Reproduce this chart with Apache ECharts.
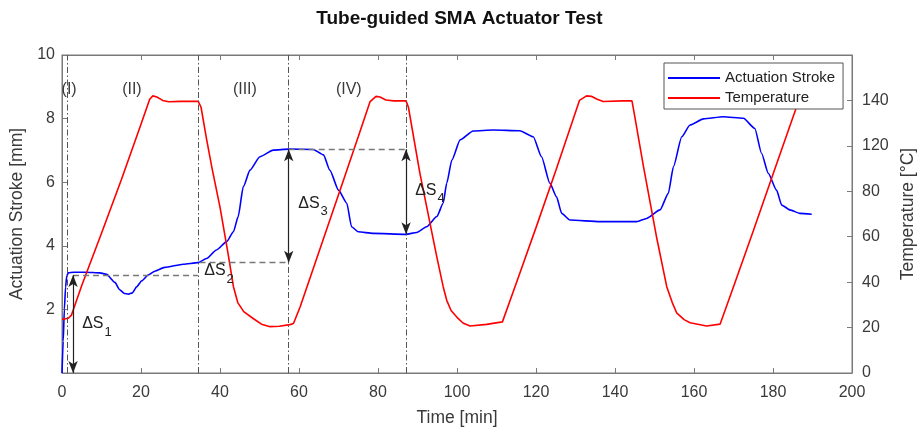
<!DOCTYPE html>
<html>
<head>
<meta charset="utf-8">
<title>Tube-guided SMA Actuator Test</title>
<script src="https://cdn.jsdelivr.net/npm/echarts@6/dist/echarts.min.js"></script>
<style>
html, body { margin: 0; padding: 0; background: #fff; }
#chart { width: 919px; height: 429px; }
</style>
</head>
<body>
<div id="chart"></div>
<script>
// actuation stroke, time [min] / stroke [mm]
const strokeTime = [0, 0.3, 0.6, 0.9, 1.2, 1.6, 3, 6, 9.6, 11.3, 13.4, 14.6, 15.8, 16.8, 17.8, 18.9, 20.2, 21.8,
  23.5, 26, 30.7, 34.4, 36.6, 39.1, 41.7, 43.4, 44.6, 45.9, 47.6, 50.1, 53.5, 57.4, 63.6, 66.2, 67.8, 70,
  72.1, 73.3, 75, 78.8, 87.1, 89.8, 92.3, 94.9, 96.5, 97.4, 98.7, 100.8, 104.1, 109.2, 115.9, 119.3, 121.4, 123.5,
  125.2, 126.5, 128.6, 136.2, 145.5, 148, 151.4, 153.5, 154.8, 156.9, 159, 162.4, 167.4, 172.5, 175.4, 177.1, 178.8, 180.9,
  182.2, 184.3, 186.8, 189.8];
const strokeMm = [0, 1.0, 2.0, 2.7, 3.05, 3.15, 3.17, 3.17, 3.15, 3.1, 2.85, 2.62, 2.5, 2.48, 2.52, 2.71, 2.9, 3.08,
  3.2, 3.32, 3.42, 3.47, 3.6, 3.87, 4.13, 4.44, 4.92, 5.86, 6.38, 6.8, 7.01, 7.04, 7.03, 6.86, 6.38, 5.75,
  5.34, 4.6, 4.44, 4.39, 4.36, 4.42, 4.6, 4.92, 5.34, 5.97, 6.7, 7.33, 7.61, 7.64, 7.62, 7.43, 6.8, 5.97,
  5.54, 5.02, 4.81, 4.76, 4.76, 4.86, 5.13, 5.65, 6.49, 7.43, 7.8, 7.99, 8.06, 8.01, 7.69, 6.91, 6.28, 5.75,
  5.28, 5.13, 5.02, 4.99];

// temperature, in units of the right axis grid (20 per tick)
const tempTime = [0, 1.6, 2.4, 5, 10, 15, 20, 22.2, 23, 24, 25.5, 27, 30, 34.5, 35.2, 36.6, 38, 40,
  42, 43.4, 44.5, 46, 48.4, 50.5, 52.7, 55, 57.7, 58.6, 60.3, 65, 70, 75, 78, 79.5, 80.5, 82,
  84, 87.1, 87.7, 90.6, 94.9, 96.5, 97.4, 98.5, 100, 101.5, 103.3, 107.5, 111.5, 115, 120, 125, 131, 132.8,
  134, 135.5, 137, 142, 144.3, 145, 147.2, 150.5, 153.1, 154.5, 155.6, 157.5, 159, 163.2, 166.6, 170, 175, 180,
  186, 189];
const tempVal = [23.6, 24.1, 25.5, 38.5, 61.5, 85, 109.5, 120.5, 122, 121.5, 120, 119.4, 119.6, 119.6, 117, 103, 90, 73,
  53, 38, 31, 27, 24, 21.5, 20.4, 20.6, 21.3, 21.8, 29.2, 53, 78.5, 104, 119.5, 121.8, 121.5, 120.2,
  119.8, 119.8, 117, 88, 51, 38, 32, 27.5, 24.5, 22, 20.7, 21.4, 22.5, 39.5, 64, 89, 120, 122,
  121.8, 120.5, 119.5, 119.8, 119.8, 113, 91, 60, 38, 31, 26.5, 23.5, 22.1, 20.7, 21.5, 38, 62.5, 87.5,
  117.3, 132];

// right axis labels as printed on the figure
const tempTicks = ['0', '20', '40', '60', '80', '120', '140', ''];

// phase markers
const phaseTimes = [1.4, 34.4, 57.4, 87.1];
const phaseNames = ['(I)', '(II)', '(III)', '(IV)'];
const phaseLabelTimes = [1.8, 17.7, 46.3, 72.6];
const phaseLabelY = 8.9;

// dashed reference levels: [from, to, stroke]
const levelLines = [[2.8, 34.4, 3.08], [34.8, 57.4, 3.47], [57.4, 87.1, 7.04]];
// double arrows: [time, top, bottom]
const deltaArrows = [[2.8, 3.08, 0], [57.4, 7.04, 3.47], [87.1, 7.04, 4.36]];
// delta labels: [index, time, stroke]
const deltaLabels = [['1', 5.1, 1.51], ['2', 36.0, 3.18], ['3', 59.8, 5.31], ['4', 89.4, 5.72]];

const FONT = "'Liberation Sans', Arial, Helvetica, sans-serif";
const AXIS_COLOR = '#7a7a7a';
const LABEL_COLOR = '#3a3a3a';

function zip(xs, ys) {
  return xs.map((x, i) => [x, ys[i]]);
}

let myChart = echarts.init(document.getElementById('chart'));

let markLines = [];
phaseTimes.forEach(t => {
  markLines.push({ xAxis: t, lineStyle: { type: [6, 2.5, 1.5, 2.5], color: '#555', width: 1 } });
});
levelLines.forEach(l => {
  let ls = { type: [6, 4], color: '#777', width: 1.3 };
  markLines.push([{ coord: [l[0], l[2]], lineStyle: ls }, { coord: [l[1], l[2]], lineStyle: ls }]);
});
deltaArrows.forEach(a => {
  let ls = { type: 'solid', color: '#222', width: 1.2 };
  markLines.push([
    { coord: [a[0], a[1]], symbol: 'arrow', symbolSize: [7, 12], lineStyle: ls },
    { coord: [a[0], a[2]], symbol: 'arrow', symbolSize: [7, 12], lineStyle: ls }
  ]);
});

let markPoints = [];
phaseNames.forEach((n, i) => {
  markPoints.push({
    name: n, coord: [phaseLabelTimes[i], phaseLabelY],
    label: { show: true, position: 'inside', formatter: n, fontSize: 16, color: LABEL_COLOR, fontFamily: FONT }
  });
});
deltaLabels.forEach(d => {
  markPoints.push({
    name: 'dS' + d[0], coord: [d[1], d[2]],
    label: {
      show: true, position: 'right', distance: 0,
      formatter: '{m|ΔS}{s|' + d[0] + '}',
      rich: {
        m: { fontSize: 16, lineHeight: 18, verticalAlign: 'top', color: '#222', fontFamily: FONT },
        s: { fontSize: 13, lineHeight: 14, verticalAlign: 'top', padding: [10, 0, 0, 1], color: '#222', fontFamily: FONT }
      }
    }
  });
});

const tickStyle = { show: true, inside: true, length: 5, lineStyle: { color: AXIS_COLOR } };

myChart.setOption({
  animation: false,
  backgroundColor: '#fff',
  textStyle: { fontFamily: FONT },
  title: {
    text: 'Tube-guided SMA Actuator Test',
    left: 'center',
    top: 4,
    textStyle: { fontSize: 19, fontWeight: 'bold', color: '#111', fontFamily: FONT }
  },
  legend: {
    data: ['Actuation Stroke', 'Temperature'],
    orient: 'vertical',
    left: 664,
    top: 63,
    padding: [7, 8, 3, 4],
    icon: 'rect',
    itemWidth: 52,
    itemHeight: 2,
    itemGap: 4,
    backgroundColor: '#fff',
    borderColor: '#555',
    borderWidth: 1,
    borderRadius: 0,
    textStyle: { fontSize: 15, color: '#222', lineHeight: 16, fontFamily: FONT }
  },
  grid: {
    left: 62, right: 67, top: 55, bottom: 56,
    outerBoundsMode: 'none',
    containLabel: false,
    show: true,
    borderColor: AXIS_COLOR,
    borderWidth: 1,
    backgroundColor: 'transparent'
  },
  xAxis: [
    {
      type: 'value', min: 0, max: 200, interval: 20, position: 'bottom',
      name: 'Time [min]', nameLocation: 'middle', nameGap: 36,
      nameTextStyle: { fontSize: 17.5, color: LABEL_COLOR },
      axisLine: { show: true, onZero: false, lineStyle: { color: AXIS_COLOR } },
      axisTick: tickStyle,
      axisLabel: { fontSize: 16, color: LABEL_COLOR, margin: 12, showMinLabel: true, showMaxLabel: true },
      splitLine: { show: false }
    },
    {
      type: 'value', min: 0, max: 200, interval: 20, position: 'top',
      axisLine: { show: true, onZero: false, lineStyle: { color: AXIS_COLOR } },
      axisTick: tickStyle,
      axisLabel: { show: false },
      splitLine: { show: false }
    }
  ],
  yAxis: [
    {
      type: 'value', min: 0, max: 10, interval: 2, position: 'left',
      name: 'Actuation Stroke [mm]', nameLocation: 'middle', nameRotate: 90, nameGap: 33,
      nameTextStyle: { fontSize: 17.5, color: LABEL_COLOR },
      axisLine: { show: true, onZero: false, lineStyle: { color: AXIS_COLOR } },
      axisTick: tickStyle,
      axisLabel: { fontSize: 16, color: LABEL_COLOR, margin: 7, formatter: v => (v === 0 ? '' : v) },
      splitLine: { show: false }
    },
    {
      type: 'value', min: 0, max: 140, interval: 20, position: 'right',
      name: 'Temperature [°C]', nameLocation: 'middle', nameRotate: 90, nameGap: 47,
      nameTextStyle: { fontSize: 17.5, color: LABEL_COLOR },
      axisLine: { show: true, onZero: false, lineStyle: { color: AXIS_COLOR } },
      axisTick: tickStyle,
      axisLabel: { fontSize: 16, color: LABEL_COLOR, margin: 10, formatter: v => tempTicks[Math.round(v / 20)] },
      splitLine: { show: false }
    }
  ],
  series: [
    {
      name: 'Actuation Stroke',
      type: 'line',
      xAxisIndex: 0,
      yAxisIndex: 0,
      data: zip(strokeTime, strokeMm),
      symbol: 'none',
      smooth: 0.2,
      smoothMonotone: 'x',
      color: '#0000ff',
      lineStyle: { color: '#0000ff', width: 1.6 },
      z: 3
    },
    {
      name: 'Temperature',
      type: 'line',
      xAxisIndex: 0,
      yAxisIndex: 1,
      data: zip(tempTime, tempVal),
      symbol: 'none',
      color: '#ff0000',
      lineStyle: { color: '#ff0000', width: 1.6 },
      z: 3
    },
    {
      name: 'annotations',
      type: 'line',
      xAxisIndex: 0,
      yAxisIndex: 0,
      data: [],
      symbol: 'none',
      markLine: {
        silent: true,
        symbol: ['none', 'none'],
        label: { show: false },
        emphasis: { disabled: true },
        data: markLines
      },
      markPoint: {
        silent: true,
        symbol: 'circle',
        symbolSize: 0,
        data: markPoints
      },
      z: 2
    }
  ]
});
</script>
</body>
</html>
